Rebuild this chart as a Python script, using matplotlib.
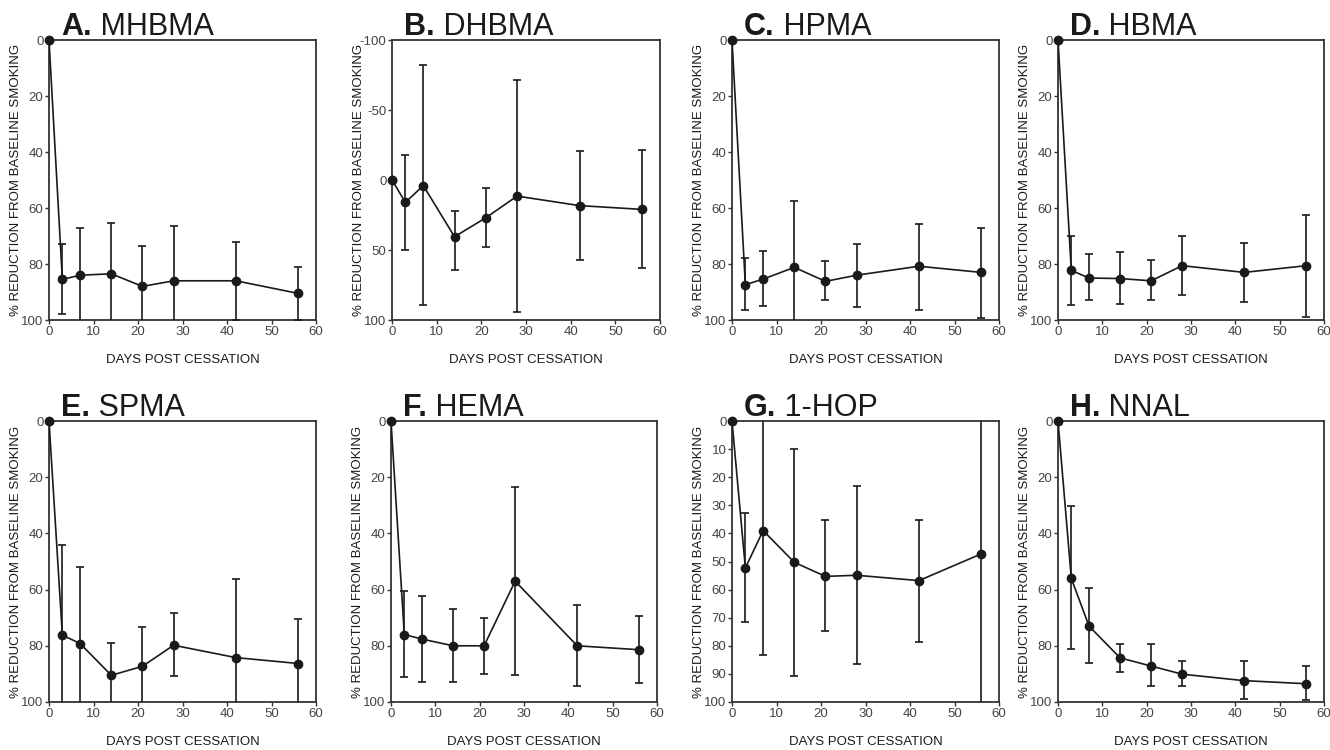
import numpy as np
import matplotlib
matplotlib.use("Agg")
import matplotlib.pyplot as plt

plt.rcParams['font.family'] = ['Liberation Sans', 'DejaVu Sans']
plt.rcParams['axes.unicode_minus'] = False

# constants
DAYS = [0, 3, 7, 14, 21, 28, 42, 56]

# panel letters and analyte names
LETTERS = ['A.', 'B.', 'C.', 'D.', 'E.', 'F.', 'G.', 'H.']
NAMES = ['MHBMA', 'DHBMA', 'HPMA', 'HBMA', 'SPMA', 'HEMA', '1-HOP', 'NNAL']

# mean % reduction, and the two ends of each error bar (top / bottom as drawn)
MHBMA = [0, 85.5, 84, 83.5, 88, 86, 86, 90.5]
MHBMA_TOP = [0, 73, 67, 65.5, 73.5, 66.5, 72, 81]
MHBMA_BOT = [0, 98, 105, 105, 105, 105, 100, 100]

DHBMA = [0, 16, 4, 40.5, 27, 11.5, 18.3, 21]
DHBMA_TOP = [0, -18, -82, 22, 5.7, -71.5, -21, -21.2]
DHBMA_BOT = [0, 50, 89.5, 64.5, 48, 94, 57, 63]

HPMA = [0, 87.4, 85.4, 81.2, 86.2, 84, 80.8, 83]
HPMA_TOP = [0, 78, 75.5, 57.4, 79, 73, 65.7, 67]
HPMA_BOT = [0, 96.3, 95, 105, 93, 95.4, 96.3, 99.3]

HBMA = [0, 82.3, 85, 85.2, 86, 80.6, 83, 80.6]
HBMA_TOP = [0, 70, 76.4, 75.7, 78.7, 70, 72.5, 62.4]
HBMA_BOT = [0, 94.8, 93, 94.3, 93, 91.2, 93.6, 99]

SPMA = [0, 76.2, 79.2, 90.5, 87.3, 79.8, 84.2, 86.3]
SPMA_TOP = [0, 44, 51.8, 79, 73.2, 68.3, 56.2, 70.6]
SPMA_BOT = [0, 105, 105, 105, 105, 90.8, 105, 105]

HEMA = [0, 76, 77.6, 80, 80, 57, 80, 81.4]
HEMA_TOP = [0, 60.5, 62.3, 67, 70, 23.5, 65.5, 69.4]
HEMA_BOT = [0, 91, 92.9, 92.9, 89.9, 90.5, 94.4, 93.1]

HOP = [0, 52.3, 39, 50.3, 55.3, 54.9, 56.8, 47.3]
HOP_TOP = [0, 32.7, -5, 10, 35.1, 23, 35.1, -5]
HOP_BOT = [0, 71.6, 83.2, 90.6, 74.8, 86.4, 78.6, 105]

NNAL = [0, 56, 73, 84.3, 87.2, 90.1, 92.4, 93.5]
NNAL_TOP = [0, 30.4, 59.3, 79.2, 79.4, 85.5, 85.5, 87.3]
NNAL_BOT = [0, 81.1, 86, 89.4, 94.3, 94.4, 98.8, 99.2]

SERIES = [
    (MHBMA, MHBMA_TOP, MHBMA_BOT),
    (DHBMA, DHBMA_TOP, DHBMA_BOT),
    (HPMA, HPMA_TOP, HPMA_BOT),
    (HBMA, HBMA_TOP, HBMA_BOT),
    (SPMA, SPMA_TOP, SPMA_BOT),
    (HEMA, HEMA_TOP, HEMA_BOT),
    (HOP, HOP_TOP, HOP_BOT),
    (NNAL, NNAL_TOP, NNAL_BOT),
]

# axes boxes in pixels: left, top, right, bottom
W, H = 1330, 750
BOXES = [
    (49, 40, 316, 320), (392, 40, 660, 320), (732, 40, 999, 320), (1058, 40, 1324, 320),
    (49, 421, 316, 702), (391, 421, 657, 702), (732, 421, 999, 702), (1058, 421, 1324, 702),
]

INK = '#1a1a1a'
FRAME = '#333333'
TICKC = '#444444'

fig = plt.figure(figsize=(W / 100, H / 100), dpi=100)

for i, (l, t, r, b) in enumerate(BOXES):
    ax = fig.add_axes([l / W, 1 - b / H, (r - l) / W, (b - t) / H])
    y, top, bot = (np.array(s, dtype=float) for s in SERIES[i])
    yerr = [y - top, bot - y]
    ax.errorbar(DAYS, y, yerr=yerr, color=INK, lw=1.2, marker='o', ms=6,
                capsize=3, capthick=1.2, elinewidth=1.2, clip_on=True, zorder=3)
    # the point at day 0 sits on the frame, keep it visible
    ax.plot(DAYS[0], y[0], 'o', color=INK, ms=6, clip_on=False, zorder=4)

    ax.set_xlim(0, 60)
    ax.set_xticks(range(0, 61, 10))
    if NAMES[i] == 'DHBMA':
        ax.set_ylim(100, -100)
        ax.set_yticks([-100, -50, 0, 50, 100])
    elif NAMES[i] == '1-HOP':
        ax.set_ylim(100, 0)
        ax.set_yticks(range(0, 101, 10))
    else:
        ax.set_ylim(100, 0)
        ax.set_yticks(range(0, 101, 20))

    for sp in ax.spines.values():
        sp.set_color(FRAME)
        sp.set_linewidth(1.3)
    ax.tick_params(direction='out', length=3, width=1, color=FRAME,
                   labelsize=9.5, labelcolor=TICKC, pad=1)

    ax.set_xlabel('DAYS POST CESSATION', fontsize=9.5, color=INK, labelpad=12)
    ax.set_ylabel('% REDUCTION FROM BASELINE SMOKING', fontsize=9.5, color=INK)
    ax.yaxis.set_label_coords(-0.10, 0.5)

    tl = ax.text(0.045, 1.018, LETTERS[i], transform=ax.transAxes, fontsize=22,
                 fontweight='bold', color=INK, va='baseline', ha='left')
    ax.annotate(' ' + NAMES[i], xy=(1, 0), xycoords=tl, fontsize=22,
                color=INK, va='bottom', ha='left')

fig.savefig('out.png', dpi=100)
